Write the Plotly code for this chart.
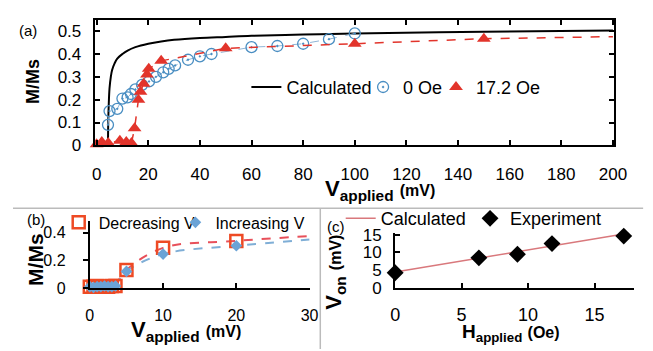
import plotly.graph_objects as go

W, H = 653, 351
FONT = "Liberation Sans, Arial, sans-serif"

# ---------------- Panel (a) data ----------------
calc_a_x = [4.4, 4.5, 4.7, 5.0, 5.5, 6, 7, 8, 10, 12, 15, 20, 25, 30, 40, 50, 60, 80, 100, 150, 200]
calc_a_y = [0, 0.10, 0.18, 0.25, 0.30, 0.33, 0.36, 0.38, 0.40, 0.415, 0.43, 0.445, 0.455, 0.462,
            0.47, 0.475, 0.48, 0.485, 0.49, 0.497, 0.503]
oe0_x = [4.4, 5, 8, 10, 12, 13.3, 15, 17.6, 20.3, 23, 25.8, 27.9, 30.4, 35.4, 40, 44.5, 60, 70, 80, 90, 100]
oe0_y = [0.09, 0.15, 0.16, 0.205, 0.21, 0.225, 0.245, 0.265, 0.28, 0.30, 0.32, 0.335, 0.35, 0.375,
         0.39, 0.40, 0.43, 0.435, 0.445, 0.465, 0.49]
oe17_x = [0, 2, 4.5, 9, 11.5, 13.5, 14.7, 16.2, 17, 18.2, 19.5, 20.2, 25, 50, 100, 150]
oe17_y = [0.005, 0.015, 0.01, 0.02, 0.015, 0.01, 0.075, 0.2, 0.235, 0.27, 0.31, 0.335, 0.37,
          0.425, 0.445, 0.467]
oe17_tail_x = [150, 200]
oe17_tail_y = [0.467, 0.476]

# ---------------- Panel (b) data ----------------
dec_x = [0, 0.5, 1, 1.5, 2, 2.5, 3, 3.5, 5, 10, 20]
dec_y = [0.01, 0.01, 0.015, 0.01, 0.01, 0.01, 0.015, 0.015, 0.13, 0.29, 0.34]
inc_x = [0, 0.5, 1, 1.5, 2, 2.5, 3, 3.5, 5, 10, 20]
inc_y = [0.01, 0.005, 0.01, 0.01, 0.015, 0.01, 0.01, 0.015, 0.12, 0.245, 0.305]
dec_fit_x = [3.5, 5, 10, 20, 30]
dec_fit_y = [0.015, 0.13, 0.29, 0.34, 0.375]
inc_fit_x = [3.5, 5, 10, 20, 30]
inc_fit_y = [0.015, 0.12, 0.245, 0.305, 0.35]

# ---------------- Panel (c) data ----------------
calc_c_x = [0, 17.2]
calc_c_y = [4.5, 15.2]
exp_x = [0, 6.3, 9.2, 11.8, 17.2]
exp_y = [4.3, 8.5, 9.5, 12.5, 14.6]

RED = "#E2342B"
BLUE = "#4A8EC2"
ORANGE = "#EE4A24"
LBLUE = "#6AA3D6"


def px(x):
    return x / W


def py(y):
    return 1 - y / H


fig = go.Figure()

# (a)
fig.add_trace(go.Scatter(x=calc_a_x, y=calc_a_y, mode="lines", name="Calculated",
                         line=dict(color="black", width=2, shape="spline"),
                         xaxis="x", yaxis="y", legend="legend"))
fig.add_trace(go.Scatter(x=oe0_x, y=oe0_y, mode="lines", showlegend=False,
                         line=dict(color="#8FB5D6", width=1, dash="dash"),
                         xaxis="x", yaxis="y"))
fig.add_trace(go.Scatter(x=oe0_x, y=oe0_y, mode="markers", name="0 Oe",
                         marker=dict(symbol="circle-open-dot", size=11, color=BLUE,
                                     line=dict(width=1.3, color=BLUE)),
                         xaxis="x", yaxis="y", legend="legend2", cliponaxis=False))
fig.add_trace(go.Scatter(x=oe17_x + oe17_tail_x[1:], y=oe17_y + oe17_tail_y[1:], mode="lines",
                         showlegend=False, line=dict(color=RED, width=1.5, dash="dash"),
                         xaxis="x", yaxis="y"))
fig.add_trace(go.Scatter(x=oe17_x, y=oe17_y, mode="markers", name="17.2 Oe",
                         marker=dict(symbol="triangle-up", size=12, color=RED),
                         xaxis="x", yaxis="y", legend="legend3", cliponaxis=False))

# (b)
fig.add_trace(go.Scatter(x=dec_fit_x, y=dec_fit_y, mode="lines", showlegend=False,
                         line=dict(color="#E8505A", width=2, dash="dash", shape="spline"),
                         xaxis="x2", yaxis="y2"))
fig.add_trace(go.Scatter(x=inc_fit_x, y=inc_fit_y, mode="lines", showlegend=False,
                         line=dict(color="#7FAED6", width=2, dash="dash", shape="spline"),
                         xaxis="x2", yaxis="y2"))
fig.add_trace(go.Scatter(x=dec_x, y=dec_y, mode="markers", name="Decreasing V",
                         marker=dict(symbol="square-open", size=12, color=ORANGE,
                                     line=dict(width=2.5, color=ORANGE)),
                         xaxis="x2", yaxis="y2", legend="legend4", cliponaxis=False))
fig.add_trace(go.Scatter(x=inc_x, y=inc_y, mode="markers", name="Increasing V",
                         marker=dict(symbol="diamond", size=9, color=LBLUE),
                         xaxis="x2", yaxis="y2", legend="legend5", cliponaxis=False))

# (c)
fig.add_trace(go.Scatter(x=calc_c_x, y=calc_c_y, mode="lines", name="Calculated",
                         line=dict(color="#D9787C", width=1.5),
                         xaxis="x3", yaxis="y3", legend="legend6"))
fig.add_trace(go.Scatter(x=exp_x, y=exp_y, mode="markers", name="Experiment",
                         marker=dict(symbol="diamond", size=13, color="black"),
                         xaxis="x3", yaxis="y3", legend="legend7", cliponaxis=False))

axis_common = dict(showgrid=False, zeroline=False, linecolor="black", ticks="inside",
                   tickcolor="black", tickwidth=1.5, ticklen=5)

fig.update_layout(
    width=W, height=H,
    margin=dict(l=0, r=0, t=0, b=0),
    paper_bgcolor="white", plot_bgcolor="white",
    font=dict(family=FONT, color="black", size=16),
    showlegend=True,
    xaxis=dict(axis_common, domain=[px(84), px(618)], range=[-0.75, 200.4], anchor="y",
               tickvals=list(range(0, 201, 20)), mirror="ticks", showline=True, linewidth=2,
               tickfont=dict(size=17), ticklabelstandoff=12),
    yaxis=dict(axis_common, domain=[py(137), py(5)], range=[0, 0.55], anchor="x",
               tickvals=[0, 0.1, 0.2, 0.3, 0.4, 0.5], ticktext=["0", "0.1", "0.2", "0.3", "0.4", "0.5"],
               mirror="ticks", showline=True, linewidth=2, tickfont=dict(size=17),
               ticklabelstandoff=8),
    xaxis2=dict(axis_common, domain=[px(79), px(305)], range=[0, 30], anchor="y2",
                tickvals=[0, 10, 20, 30], showline=True, linewidth=2, tickfont=dict(size=16),
                ticklabelstandoff=12),
    yaxis2=dict(axis_common, domain=[py(287), py(217)], range=[0, 0.48], anchor="x2",
                tickvals=[0, 0.2, 0.4], ticktext=["0", "0.2", "0.4"], ticks="outside",
                showline=True, linewidth=2, tickfont=dict(size=16), ticklabelstandoff=14),
    xaxis3=dict(axis_common, domain=[px(393), px(639)], range=[0, 18], anchor="y3",
                tickvals=[0, 5, 10, 15], showline=True, linewidth=2, tickfont=dict(size=18),
                ticklabelstandoff=9),
    yaxis3=dict(axis_common, domain=[py(287), py(229)], range=[0, 15.5], anchor="x3",
                tickvals=[0, 5, 10, 15], showline=True, linewidth=2, tickfont=dict(size=17),
                ticklabelstandoff=8),
)


def leg(text_x, yc, size):
    return dict(x=px(text_x - 50), y=py(yc), xanchor="left", yanchor="middle",
                bgcolor="rgba(0,0,0,0)", borderwidth=0, itemwidth=30,
                font=dict(size=size, family=FONT, color="black"))


fig.update_layout(
    legend=leg(290, 76, 18),
    legend2=leg(410, 76, 18),
    legend3=leg(485, 76, 18),
    legend4=leg(97, 218, 16),
    legend5=leg(217, 218, 16),
    legend6=leg(387, 214, 18),
    legend7=leg(520, 214, 18),
)

annotations = [
    dict(text="(a)", x=px(4), y=py(16), xanchor="left", yanchor="middle", font=dict(size=15)),
    dict(text="<b>M/Ms</b>", x=px(20), y=py(70), textangle=-90, xanchor="center", yanchor="middle",
         font=dict(size=18)),
    dict(text="<b>V<sub>applied</sub> <span style='font-size:16px'>(mV)</span></b>", x=px(377), y=py(184),
         xanchor="center", yanchor="middle", font=dict(size=22)),
    dict(text="(b)", x=px(12), y=py(215), xanchor="left", yanchor="middle", font=dict(size=15)),
    dict(text="<b>M/Ms</b>", x=px(23), y=py(257), textangle=-90, xanchor="center", yanchor="middle",
         font=dict(size=21)),
    dict(text="<b>V<sub>applied</sub> <span style='font-size:16px'>(mV)</span></b>", x=px(178), y=py(332),
         xanchor="center", yanchor="middle", font=dict(size=22)),
    dict(text="(c)", x=px(321), y=py(222), xanchor="left", yanchor="middle", font=dict(size=15)),
    dict(text="<b>V<sub>on</sub> <span style='font-size:16px'>(mV)</span></b>", x=px(331), y=py(270),
         textangle=-90, xanchor="center", yanchor="middle", font=dict(size=22)),
    dict(text="<b>H<sub>applied</sub> <span style='font-size:16px'>(Oe)</span></b>", x=px(512), y=py(334),
         xanchor="center", yanchor="middle", font=dict(size=19)),
]
for a in annotations:
    a.update(xref="paper", yref="paper", showarrow=False)
fig.update_layout(annotations=annotations)

fig.update_layout(shapes=[
    dict(type="line", xref="paper", yref="paper", x0=0, x1=px(648), y0=py(203), y1=py(203),
         line=dict(color="#BBBBBB", width=1.5)),
    dict(type="line", xref="paper", yref="paper", x0=px(316), x1=px(316), y0=py(203), y1=0,
         line=dict(color="#BBBBBB", width=1.5)),
])

fig.write_html("out.html")
